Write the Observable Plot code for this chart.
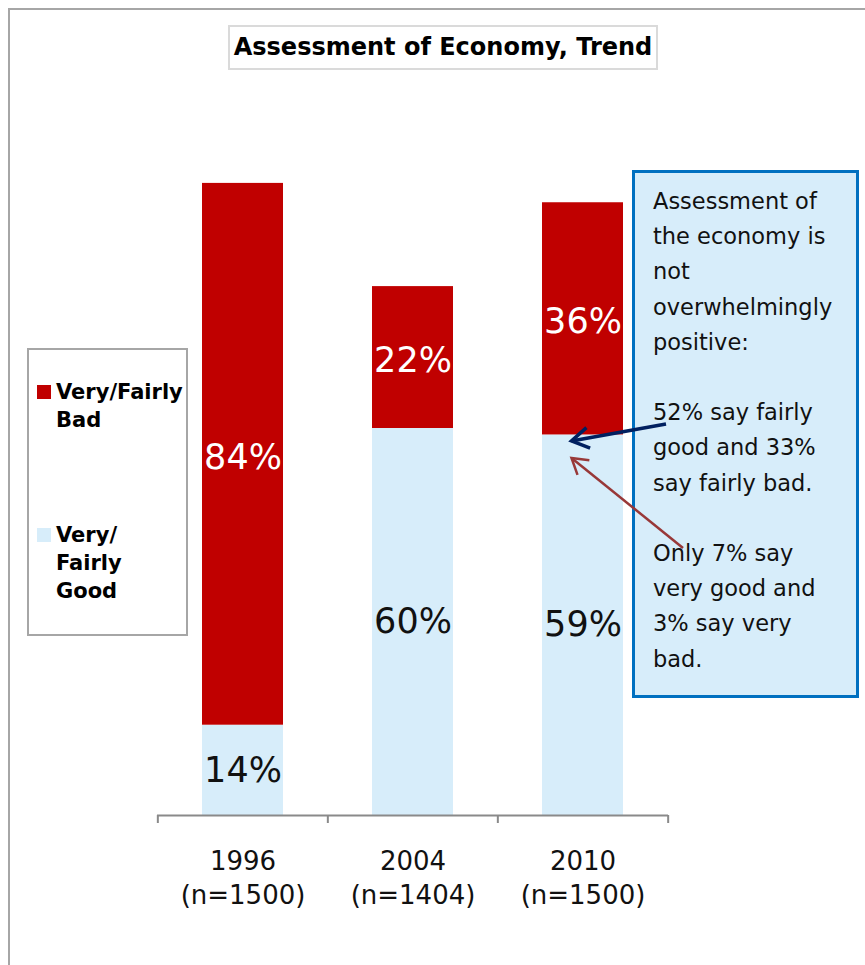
<!DOCTYPE html>
<html>
<head>
<meta charset="utf-8">
<script src="https://cdn.jsdelivr.net/npm/d3@7"></script>
<script src="https://cdn.jsdelivr.net/npm/@observablehq/plot@0.6"></script>
<style>
  html, body { margin: 0; padding: 0; background: #fff; }
  #wrap { position: relative; width: 865px; height: 965px; overflow: hidden; font-family: "DejaVu Sans", sans-serif; }
  #wrap > svg { position: absolute; left: 0; top: 0; }
  .frame { position: absolute; left: 8px; top: 8px; right: -10px; bottom: -10px; border-left: 2.5px solid #a6a6a6; border-top: 2.5px solid #a6a6a6; }
  .title { position: absolute; left: 228px; top: 25px; width: 426px; height: 41px; border: 2px solid #dadada; background: #fff;
           font-weight: bold; font-size: 24px; line-height: 41px; text-align: center; color: #000; white-space: nowrap; }
  .legend { position: absolute; left: 27px; top: 348px; width: 157px; height: 284px; border: 2px solid #a6a6a6; background: #fff; }
  .legend .item { position: absolute; left: 27px; font-weight: bold; font-size: 21px; line-height: 28px; color: #000; }
  .legend .sw { position: absolute; left: -19px; top: 7px; width: 14px; height: 14px; }
  .note { position: absolute; left: 632px; top: 170px; width: 203px; height: 522px; border: 3px solid #0070c0; background: #d7edfa;
          font-size: 22.5px; line-height: 35.2px; color: #111; padding: 0 0 0 18px; box-sizing: content-box; white-space: pre; }
</style>
</head>
<body>
<div id="wrap"></div>
<script>
// ---- data ----
const years = ["1996", "2004", "2010"];
const sampleLabels = ["(n=1500)", "(n=1404)", "(n=1500)"];
const series = ["Very/Fairly Good", "Very/Fairly Bad"];
const goodValues = [14, 60, 59];
const badValues = [84, 22, 36];
const colors = ["#d7edfa", "#c00000"];
const titleText = "Assessment of Economy, Trend";
const noteLines = [
  "Assessment of", "the economy is", "not", "overwhelmingly", "positive:", "",
  "52% say fairly", "good and 33%", "say fairly bad.", "",
  "Only 7% say", "very good and", "3% say very", "bad."
];

const rows = [];
years.forEach((yr, i) => {
  rows.push({year: yr, series: series[0], value: goodValues[i]});
  rows.push({year: yr, series: series[1], value: badValues[i]});
});

const W = 865, H = 965;
const mL = 157, mR = 197, mT = 170, mB = 150;
const step = (W - mL - mR) / years.length;

const chart = Plot.plot({
  width: W, height: H,
  marginLeft: mL, marginRight: mR, marginTop: mT, marginBottom: mB,
  style: {fontFamily: "DejaVu Sans, sans-serif", background: "transparent", overflow: "visible"},
  x: {domain: years, paddingInner: 0.525, paddingOuter: 0.2625, axis: null},
  y: {domain: [0, 100], axis: null},
  color: {domain: series, range: colors, legend: false},
  marks: [
    Plot.barY(rows, {x: "year", y: "value", fill: "series"}),
    Plot.text(rows, Plot.filter(d => d.series === series[0],
      Plot.stackY({x: "year", y: "value", text: d => d.value + "%", fill: "#111", fontSize: 35}))),
    Plot.text(rows, Plot.filter(d => d.series === series[1],
      Plot.stackY({x: "year", y: "value", text: d => d.value + "%", fill: "#fff", fontSize: 35, dy: 3}))),
    Plot.ruleY([0], {stroke: "#8a8a8a", strokeWidth: 2}),
    Plot.ruleX(years, {x: d => d, dx: -step / 2, y1: 0, y2: 0, insetBottom: -8, stroke: "#8a8a8a", strokeWidth: 2}),
    Plot.ruleX([years[years.length - 1]], {x: d => d, dx: step / 2, y1: 0, y2: 0, insetBottom: -8, stroke: "#8a8a8a", strokeWidth: 2}),
    Plot.axisX({tickSize: 0, tickPadding: 31, fontSize: 26, lineHeight: 1.29, fill: "#111", label: null,
      tickFormat: d => d + "\n" + sampleLabels[years.indexOf(d)]})
  ]
});

const wrap = document.getElementById("wrap");
const frame = document.createElement("div"); frame.className = "frame"; wrap.appendChild(frame);
wrap.appendChild(chart);

const title = document.createElement("div"); title.className = "title"; title.textContent = titleText; wrap.appendChild(title);

const legend = document.createElement("div"); legend.className = "legend";
[[series[1], "Very/Fairly\nBad", 28], [series[0], "Very/\nFairly\nGood", 171]].forEach(([s, label, top]) => {
  const it = document.createElement("div"); it.className = "item"; it.style.top = top + "px";
  it.innerHTML = label.split("\n").join("<br>");
  const sw = document.createElement("div"); sw.className = "sw"; sw.style.background = colors[series.indexOf(s)];
  it.appendChild(sw); legend.appendChild(it);
});
wrap.appendChild(legend);

const note = document.createElement("div"); note.className = "note";
note.style.paddingTop = "11px"; note.style.height = "511px";
note.textContent = noteLines.join("\n");
wrap.appendChild(note);

// arrows overlay pointing at the 2010 good/bad boundary
const xs = chart.scale("x"), ys = chart.scale("y");
const bx = xs.apply("2010") + xs.bandwidth / 2 - 11;
const by = ys.apply(goodValues[2]);
const ov = d3.select(wrap).append("svg").attr("width", W).attr("height", H)
  .style("position", "absolute").style("left", 0).style("top", 0).style("pointer-events", "none");
function arrow(x1, y1, x2, y2, color, w, L) {
  const a = Math.atan2(y2 - y1, x2 - x1), s = 0.55;
  const p1 = [x2 - L * Math.cos(a - s), y2 - L * Math.sin(a - s)];
  const p2 = [x2 - L * Math.cos(a + s), y2 - L * Math.sin(a + s)];
  ov.append("line").attr("x1", x1).attr("y1", y1).attr("x2", x2).attr("y2", y2)
    .attr("stroke", color).attr("stroke-width", w);
  ov.append("path").attr("d", `M${p1}L${x2},${y2}L${p2}`).attr("fill", "none")
    .attr("stroke", color).attr("stroke-width", w).attr("stroke-linejoin", "miter");
}
arrow(666, 424, bx, by + 6.5, "#002060", 3.5, 20);
arrow(683, 548, bx, by + 23.5, "#983838", 2.5, 18);
</script>
</body>
</html>
